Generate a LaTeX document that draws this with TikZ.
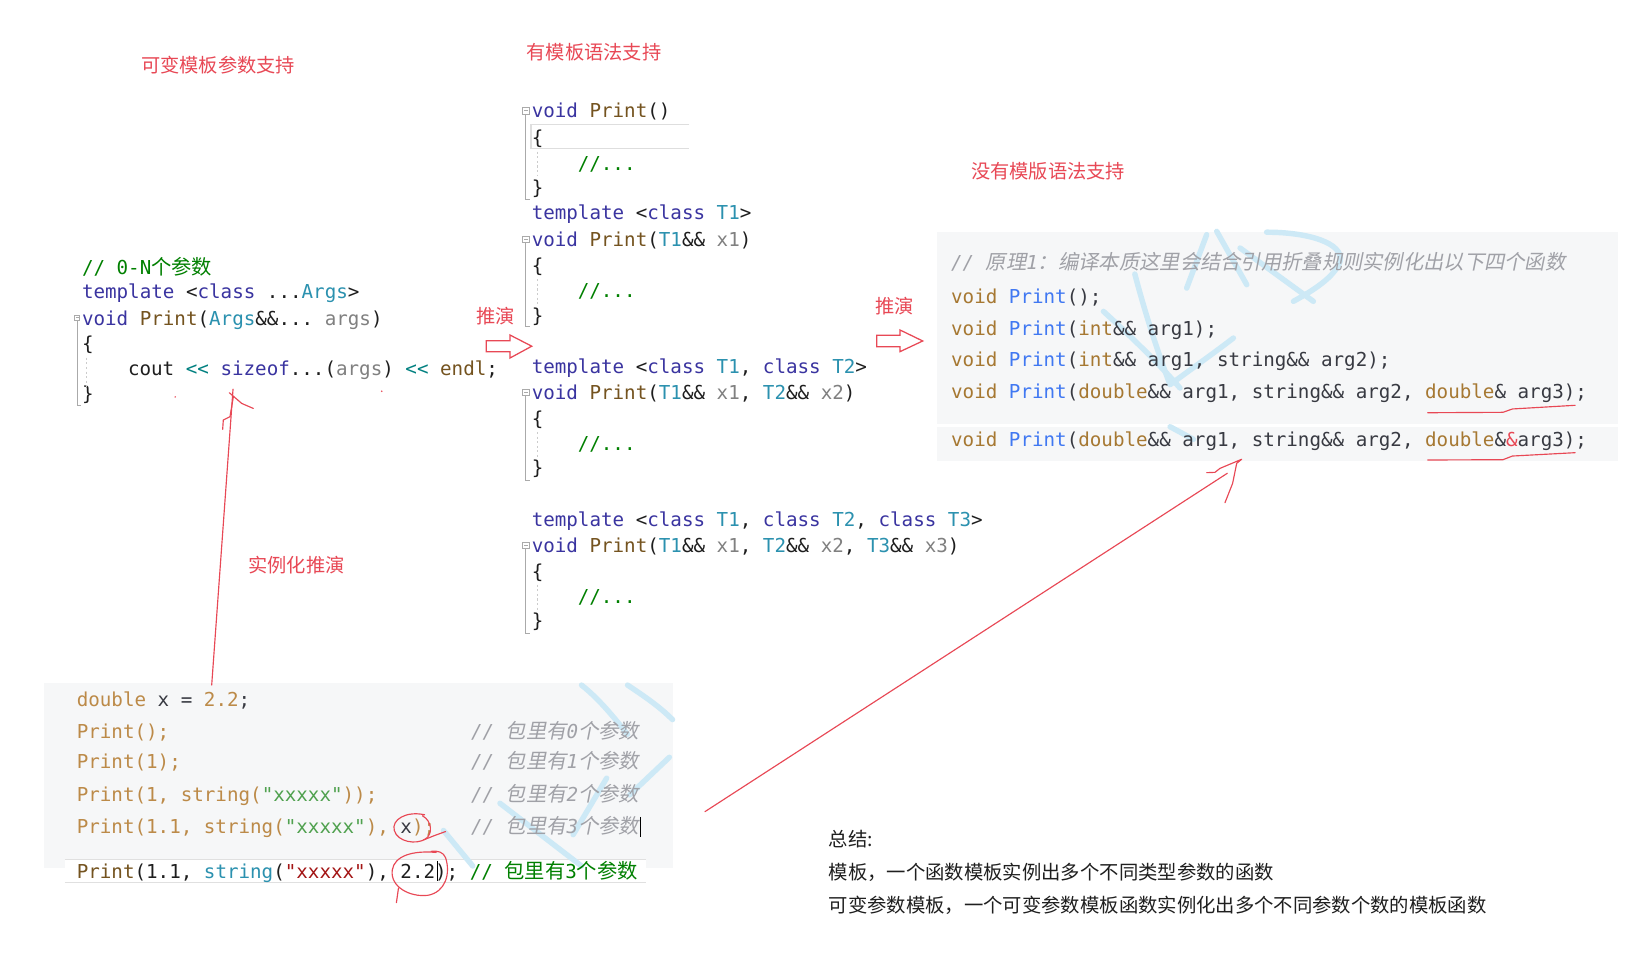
\documentclass[tikz,border=0pt]{standalone}
\usepackage{fontspec}
\setmonofont{DejaVu Sans Mono}
\newfontfamily\zhfont{Noto Sans CJK SC}
\newfontfamily\zhitfont[FakeSlant=0.2]{Noto Sans CJK SC}
\definecolor{annot}{RGB}{232,72,85}
\definecolor{vskw}{RGB}{58,52,160}
\definecolor{vsty}{RGB}{43,145,175}
\definecolor{vsfn}{RGB}{116,83,31}
\definecolor{vspa}{RGB}{128,128,128}
\definecolor{vscm}{RGB}{0,128,0}
\definecolor{vsop}{RGB}{0,128,128}
\definecolor{vsstr}{RGB}{163,21,21}
\definecolor{vstx}{RGB}{30,30,30}
\definecolor{tykw}{RGB}{166,120,50}
\definecolor{tyfn}{RGB}{64,120,242}
\definecolor{tytx}{RGB}{56,58,66}
\definecolor{tycm}{RGB}{160,161,167}
\definecolor{tystr}{RGB}{80,161,79}
\definecolor{tygold}{RGB}{188,138,72}
\definecolor{panelbg}{RGB}{246,247,248}
\definecolor{wm}{RGB}{205,233,246}
\definecolor{guide}{RGB}{170,170,170}
\newcommand\codesz{\fontsize{9.18pt}{11pt}\selectfont}
\newcommand\zh[1]{{\fontsize{9.7pt}{11pt}\selectfont\zhfont #1}}
\newcommand\zhi[1]{{\fontsize{9.7pt}{11pt}\selectfont\zhitfont #1}}
\newcommand\Ckw[1]{\textcolor{vskw}{#1}}
\newcommand\Cty[1]{\textcolor{vsty}{#1}}
\newcommand\Cfn[1]{\textcolor{vsfn}{#1}}
\newcommand\Cpa[1]{\textcolor{vspa}{#1}}
\newcommand\Ccm[1]{\textcolor{vscm}{#1}}
\newcommand\Cop[1]{\textcolor{vsop}{#1}}
\newcommand\Tkw[1]{\textcolor{tykw}{#1}}
\newcommand\Tfn[1]{\textcolor{tyfn}{#1}}
\newcommand\Tgd[1]{\textcolor{tygold}{#1}}
\newcommand\Tst[1]{\textcolor{tystr}{#1}}
\newcommand\Tcm[1]{\textcolor{tycm}{\itshape #1}}
\tikzset{
  code/.style={anchor=base west, inner sep=0pt, font=\codesz\ttfamily, text=vstx},
  tcode/.style={anchor=base west, inner sep=0pt, font=\codesz\ttfamily, text=tytx},
  lbl/.style={inner sep=0pt, text=annot, font=\fontsize{9.2pt}{11pt}\selectfont\zhfont},
  sumtxt/.style={anchor=west, inner sep=0pt, font=\fontsize{9.25pt}{11pt}\selectfont\zhfont, text=black!88},
  handred/.style={draw=annot, line width=0.55pt, line cap=round, line join=round},
  hollowarrow/.style={draw=annot, line width=0.6pt, line join=miter},
  foldln/.style={draw=guide, line width=0.45pt},
  guideln/.style={draw=guide!60, line width=0.4pt, dash pattern=on 1pt off 1.2pt},
  wmark/.style={draw=wm, line width=2.6pt, line cap=round, line join=round},
}
\begin{document}
\begin{tikzpicture}[x=0.5pt,y=-0.5pt]
\useasboundingbox (0,0) rectangle (1568,917);
\fill[white] (0,0) rectangle (1568,917);

% ---------- backgrounds ----------
\fill[panelbg] (896,221.5) rectangle (1546.6,405.6);
\fill[panelbg] (896,408.6) rectangle (1546.6,440.5);
\fill[panelbg] (42,653) rectangle (643,830);
\fill[white] (62,822) rectangle (618,844);
\draw[black!12, line width=0.4pt] (62,822) -- (618,822);
\draw[black!12, line width=0.4pt] (62,844) -- (618,844);

% ---------- watermark strokes ----------
\draw[wmark] (1055,297.7) .. controls (1085,325) and (1110,350) .. (1128.2,371);
\draw[wmark] (1085,262) .. controls (1095,300) and (1108,340) .. (1118.7,367.8) .. controls (1140,352) and (1160,338) .. (1179.2,323.2);
\draw[wmark] (1153.7,224.4) -- (1134.6,275.4);
\draw[wmark] (1163.3,221.2) -- (1192,272.2);
\draw[wmark] (1211,222) .. controls (1250,222) and (1285,232) .. (1281.2,249.9) .. controls (1276,265) and (1255,278) .. (1236.6,288.1);
\draw[wmark] (1185.6,237.1) -- (1255.7,288.1);
\draw[wmark] (1118.7,408) -- (1141,420);
\draw[wmark] (556,655) .. controls (575,670) and (590,690) .. (600,702);
\draw[wmark] (600,655) .. controls (615,665) and (630,675) .. (643,688);
\draw[wmark] (640,724) -- (602,760);
\draw[wmark] (478,768) -- (556,828);
\draw[wmark] (424,794) -- (452,828);
\draw[wmark] (580,744) -- (548,798);

% ---------- titles / labels ----------
\node[lbl] (t1) at (208.5,62.5) {可变模板参数支持};
\node[lbl] (t2) at (568,50) {有模板语法支持};
\node[lbl] (t3) at (1002,164) {没有模版语法支持};
\node[lbl] (t4) at (474,302.6) {推演};
\node[lbl] (t5) at (855,292.4) {推演};
\node[lbl] (t6) at (283.5,540) {实例化推演};

% ---------- left code block ----------
\node[code] (l0) at (78,262) {\Ccm{// 0-N\zh{个参数}}};
\node[code] (l1) at (78,285.3) {\Ckw{template} <\Ckw{class} ...\Cty{Args}>};
\node[code] (l2) at (78,310.8) {\Ckw{void} \Cfn{Print}(\Cty{Args}\&\&... \Cpa{args})};
\node[code] (l3) at (78,335.5) {\{};
\node[code] (l4) at (122,358.6) {cout \Cop{<<} \Ckw{sizeof}...(\Cpa{args}) \Cop{<<} \Cfn{endl};};
\node[code] (l5) at (78,382.5) {\}};
\draw[foldln] (71.2,301.5) rectangle (76.2,306.5);
\draw[foldln] (72.2,304) -- (75.2,304);
\draw[foldln] (73.7,306.5) -- (73.7,387.3) -- (77,387.3);
\draw[guideln] (83,342) -- (83,370);
\fill[annot] (167.5,379.5) circle (0.8);
\fill[annot] (365,374) circle (0.8);

% ---------- middle code blocks ----------
\draw[black!13, line width=0.5pt] (659,118.9) -- (507.7,118.9) -- (507.7,141.9) -- (659,141.9);
\node[code] (m0) at (508,112.8) {\Ckw{void} \Cfn{Print}()};
\node[code] (m1) at (508,138.5) {\{};
\node[code] (m2) at (552,163.1) {\Ccm{//...}};
\node[code] (m3) at (508,186.2) {\}};
\node[code] (m4) at (508,210.2) {\Ckw{template} <\Ckw{class} \Cty{T1}>};
\node[code] (m5) at (508,235.5) {\Ckw{void} \Cfn{Print}(\Cty{T1}\&\& \Cpa{x1})};
\node[code] (m6) at (508,260.1) {\{};
\node[code] (m7) at (552,284.8) {\Ccm{//...}};
\node[code] (m8) at (508,308.8) {\}};
\node[code] (m9) at (508,357.1) {\Ckw{template} <\Ckw{class} \Cty{T1}, \Ckw{class} \Cty{T2}>};
\node[code] (m10) at (508,381.8) {\Ckw{void} \Cfn{Print}(\Cty{T1}\&\& \Cpa{x1}, \Cty{T2}\&\& \Cpa{x2})};
\node[code] (m11) at (508,406.4) {\{};
\node[code] (m12) at (552,431.1) {\Ccm{//...}};
\node[code] (m13) at (508,454.1) {\}};
\node[code] (m14) at (508,503.5) {\Ckw{template} <\Ckw{class} \Cty{T1}, \Ckw{class} \Cty{T2}, \Ckw{class} \Cty{T3}>};
\node[code] (m15) at (508,528.1) {\Ckw{void} \Cfn{Print}(\Cty{T1}\&\& \Cpa{x1}, \Cty{T2}\&\& \Cpa{x2}, \Cty{T3}\&\& \Cpa{x3})};
\node[code] (m16) at (508,552.8) {\{};
\node[code] (m17) at (552,577.4) {\Ccm{//...}};
\node[code] (m18) at (508,600.4) {\}};
% fold markers and outlining
\foreach \fy/\fe in {106/190.6, 229.1/312.3, 375.4/459.2, 521.7/606}{
  \draw[foldln] (499.8,\fy-3) rectangle (505.8,\fy+3);
  \draw[foldln] (501,\fy) -- (504.6,\fy);
  \draw[foldln] (502.8,\fy+3) -- (502.8,\fe) -- (507,\fe);
}
\foreach \ga/\gb in {145/168, 267/291, 413/437, 559/583}{
  \draw[guideln] (513.6,\ga) -- (513.6,\gb);
}

% ---------- hollow arrows ----------
\draw[hollowarrow] (465,325.8) -- (487.6,325.8) -- (487.6,320.3) -- (508.4,331) -- (487.6,342.3) -- (487.6,336.3) -- (465,336.3) -- cycle;
\draw[hollowarrow] (838.2,320.5) -- (860.5,320.5) -- (860.5,315.5) -- (882.2,326) -- (860.5,336.2) -- (860.5,331.5) -- (838.2,331.5) -- cycle;

% ---------- right panel ----------
\node[tcode] (r0) at (909,258.1) {\Tcm{// \zhi{原理}1\zhi{：编译本质这里会结合引用折叠规则实例化出以下四个函数}}};
\node[tcode] (r1) at (909,290) {\Tkw{void} \Tfn{Print}();};
\node[tcode] (r2) at (909,320.3) {\Tkw{void} \Tfn{Print}(\Tkw{int}\&\& arg1);};
\node[tcode] (r3) at (909,350.6) {\Tkw{void} \Tfn{Print}(\Tkw{int}\&\& arg1, string\&\& arg2);};
\node[tcode] (r4) at (909,380.8) {\Tkw{void} \Tfn{Print}(\Tkw{double}\&\& arg1, string\&\& arg2, \Tkw{double}\& arg3);};
\node[tcode] (r5) at (909,427) {\Tkw{void} \Tfn{Print}(\Tkw{double}\&\& arg1, string\&\& arg2, \Tkw{double}\&\textcolor{annot}{\&}arg3);};
\draw[handred] (1365,394.6) -- (1437,394.2) -- (1446,391) -- (1506,387.5);
\draw[handred] (1365,439.8) -- (1437,439.5) -- (1446,436) -- (1506,432.8);

% ---------- bottom-left panel ----------
\node[tcode] (b0) at (73,675.7) {\Tgd{double} x = \Tgd{2.2};};
\node[tcode] (b1) at (73,706) {\Tgd{Print();}};
\node[tcode] (b2) at (73,734.7) {\Tgd{Print(1);}};
\node[tcode] (b3) at (73,766.6) {\Tgd{Print(1, string(}\Tst{"xxxxx"}\Tgd{));}};
\node[tcode] (b4) at (73,796.8) {\Tgd{Print(1.1, string(}\Tst{"xxxxx"}\Tgd{),} x\Tgd{);}};
\node[tcode] (c1) at (450,706) {\Tcm{// \zhi{包里有}0\zhi{个参数}}};
\node[tcode] (c2) at (450,734.7) {\Tcm{// \zhi{包里有}1\zhi{个参数}}};
\node[tcode] (c3) at (450,766.6) {\Tcm{// \zhi{包里有}2\zhi{个参数}}};
\node[tcode] (c4) at (450,796.8) {\Tcm{// \zhi{包里有}3\zhi{个参数}}};
\draw[black, line width=0.4pt] (612.5,781) -- (612.5,800);
\node[code] (b5) at (73,839.9) {\Cfn{Print}(1.1, \Cty{string}(\textcolor{vsstr}{"xxxxx"}), 2.2); \Ccm{// \zh{包里有}3\zh{个参数}}};
\draw[black, line width=0.4pt] (418,823) -- (418,842);
% red circles
\draw[handred] (406,779) .. controls (388,775) and (374,784) .. (377,794) .. controls (380,805) and (398,808) .. (407,802) .. controls (414,797) and (413,785) .. (404,780);
\draw[handred] (405,803) -- (415,799) -- (426,795);
\draw[handred] (417,815) .. controls (395,813) and (377,818) .. (375,832) .. controls (373,848) and (392,858) .. (409,856) .. controls (426,853) and (431,835) .. (426,820) .. controls (424,815) and (419,813) .. (412,814);
\draw[handred] (381,849) -- (379,863);

% ---------- red connectors ----------
\coordinate (vA) at (202.4,655);
\coordinate (vB) at (222.8,372);
\draw[handred] (vA) -- (vB);
\draw[handred] (223.1,379.3) -- (219.9,398.4) -- (213.5,401.6) -- (212.9,410.5);
\draw[handred] (219.3,375.5) -- (231.1,385.7) -- (242.2,390.5);
\coordinate (dA) at (674,776);
\coordinate (dB) at (1173.4,452.5);
\draw[handred] (dA) -- (dB);
\draw[handred] (1153.7,451.9) -- (1161.6,451.6) -- (1166.4,447.8) -- (1187.1,439.1) -- (1182.4,443) -- (1178.5,462.1) -- (1171.2,480.6);

% ---------- summary ----------
\node[sumtxt] (s0) at (792,802) {总结:};
\node[sumtxt] (s1) at (792,834) {模板，一个函数模板实例出多个不同类型参数的函数};
\node[sumtxt] (s2) at (792,865.5) {可变参数模板，一个可变参数模板函数实例化出多个不同参数个数的模板函数};
\end{tikzpicture}
\end{document}
